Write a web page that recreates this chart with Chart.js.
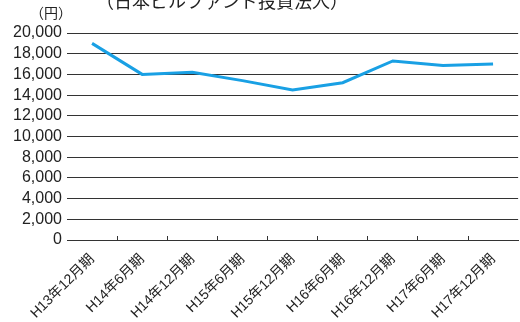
<!DOCTYPE html>
<html><head><meta charset="utf-8">
<script src="https://cdn.jsdelivr.net/npm/chart.js@4"></script>
<style>html,body{margin:0;padding:0;background:#fff;overflow:hidden}#wrap{width:520px;height:322px;position:relative}</style>
</head><body><div id="wrap"><canvas id="c" width="520" height="322"></canvas></div>
<script>
const categories = ["H13年12月期","H14年6月期","H14年12月期","H15年6月期","H15年12月期","H16年6月期","H16年12月期","H17年6月期","H17年12月期"];
const values = [19000, 16000, 16200, 15400, 14500, 15200, 17300, 16850, 17000];
const yTicks = [0, 2000, 4000, 6000, 8000, 10000, 12000, 14000, 16000, 18000, 20000];
const titleText = "（日本ビルファンド投資法人）";
const unitText = "（円）";
const FONT = "'Liberation Sans', 'Noto Sans CJK JP', sans-serif";

const textPlugin = {
  id: 'extraText',
  afterDraw(chart) {
    const ctx = chart.ctx;
    ctx.save();
    ctx.fillStyle = '#222';
    ctx.textAlign = 'center';
    ctx.textBaseline = 'middle';
    ctx.font = '18px ' + FONT;
    ctx.fillText(titleText, 222, 3);
    ctx.font = '14px ' + FONT;
    ctx.fillText(unitText, 51, 14);
    ctx.restore();
  }
};

new Chart(document.getElementById('c'), {
  type: 'line',
  data: {
    labels: categories,
    datasets: [{
      data: values,
      borderColor: '#19a0e4',
      borderWidth: 3,
      pointRadius: 0,
      tension: 0,
      fill: false
    }]
  },
  options: {
    responsive: false,
    animation: false,
    devicePixelRatio: 1,
    layout: { padding: { top: 33, right: 1, left: 0, bottom: 0 } },
    plugins: { legend: { display: false }, tooltip: { enabled: false }, title: { display: false } },
    scales: {
      x: {
        type: 'category',
        offset: true,
        afterFit: s => { s.height = 82; },
        grid: {
          offset: true,
          drawOnChartArea: false,
          drawTicks: true,
          tickLength: -4,
          color: ctx => (ctx.index === 0 || ctx.index === undefined) ? 'rgba(0,0,0,0)' : '#333',
          lineWidth: 1
        },
        border: { display: true, color: '#333', width: 1 },
        ticks: {
          minRotation: 45, maxRotation: 45, autoSkip: false,
          padding: 15,
          color: '#222',
          font: { family: FONT, size: 14 }
        }
      },
      y: {
        min: 0, max: 20000,
        afterFit: s => { s.width = 67; },
        afterBuildTicks: s => { s.ticks = yTicks.map(v => ({ value: v })); },
        grid: { drawTicks: false, color: '#333', lineWidth: 1 },
        border: { display: false },
        ticks: {
          autoSkip: false,
          padding: 5,
          color: '#222',
          font: { family: FONT, size: 16 },
          callback: v => v.toLocaleString('en-US')
        }
      }
    }
  },
  plugins: [textPlugin]
});
</script></body></html>
